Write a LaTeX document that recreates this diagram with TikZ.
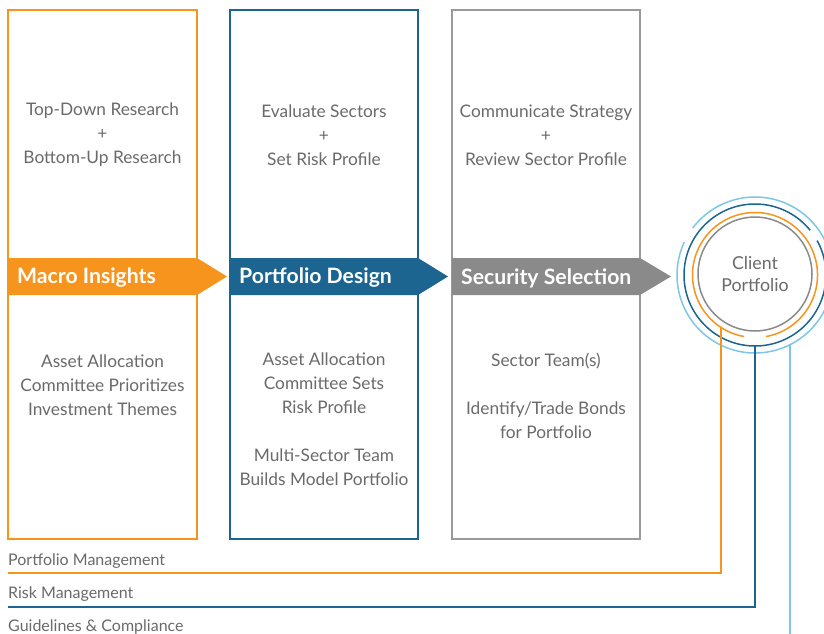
\documentclass[tikz,border=0pt]{standalone}
\usepackage{fontspec}
\setmainfont{Lato}
\definecolor{morange}{HTML}{F7941D}
\definecolor{mblue}{HTML}{1B6590}
\definecolor{mgray}{HTML}{8A8A8A}
\definecolor{lblue}{HTML}{7DC6E6}
\definecolor{txt}{HTML}{6A6A6A}
\definecolor{boxgray}{HTML}{9A9A9A}
\tikzset{
  colbox/.style={rectangle, line width=1.4pt, minimum height=529pt, inner sep=0pt},
  bodytext/.style={align=center, text=txt, font=\fontsize{17.3}{24}\selectfont},
  bannertext/.style={anchor=west, text=white, font=\bfseries\fontsize{21.2}{22}\selectfont, inner sep=0pt},
  sidelabel/.style={anchor=west, text=txt, font=\fontsize{16}{18}\selectfont, inner sep=0pt},
  ring/.style={line width=1.5pt},
  track/.style={line width=1.4pt}
}
\begin{document}
\begin{tikzpicture}[x=1pt,y=-1pt]
\clip (0,0) rectangle (824,634);
\useasboundingbox (0,0) rectangle (824,634);

% column boxes
\node[colbox, draw=morange, minimum width=189pt] (box1) at (102.5,274.5) {};
\node[colbox, draw=mblue, minimum width=188pt] (box2) at (324,274.5) {};
\node[colbox, draw=boxgray, minimum width=188pt] (box3) at (546,274.5) {};

% banners
\fill[morange] (8,258) -- (197,258) -- (227,276.5) -- (197,295) -- (8,295) -- cycle;
\fill[mblue] (230,258) -- (418,258) -- (448,276.5) -- (418,295) -- (230,295) -- cycle;
\fill[mgray] (452,258) -- (640,258) -- (671,276.5) -- (640,295) -- (452,295) -- cycle;
\node[bannertext] (b1) at (17,278) {Macro Insights};
\node[bannertext] (b2) at (239,278) {Portfolio Design};
\node[bannertext] (b3) at (461,278) {Security Selection};

% texts
\node[bodytext] (t1) at (102.5,135) {Top-Down Research\\+\\Bottom-Up Research};
\node[bodytext] (t2) at (324,135) {Evaluate Sectors\\+\\Set Risk Profile};
\node[bodytext] (t3) at (546,135) {Communicate Strategy\\+\\Review Sector Profile};
\node[bodytext] (u1) at (102.5,385.5) {Asset Allocation\\Committee Prioritizes\\Investment Themes};
\node[bodytext] (u2) at (324,419.5) {Asset Allocation\\Committee Sets\\Risk Profile\\[24pt]Multi-Sector Team\\Builds Model Portfolio};
\node[bodytext] (u3) at (546,395.5) {Sector Team(s)\\[24pt]Identify/Trade Bonds\\for Portfolio};

% client portfolio
\node[circle, draw=mgray, ring, minimum size=114pt, inner sep=0pt, align=center, text=txt,
      font=\fontsize{17.8}{22}\selectfont] (client) at (755,274) {Client\\Portfolio};
\coordinate (cc) at (755,275);
\draw[morange, ring] ([shift={(280:62.5pt)}]cc) arc[start angle=280, end angle=620, radius=62.5pt];
\draw[mblue, ring] ([shift={(39:71pt)}]cc) arc[start angle=39, end angle=389, radius=71pt];
\draw[lblue, ring] ([shift={(155:78pt)}]cc) arc[start angle=155, end angle=503, radius=78pt];

% tracks
\coordinate (oTop) at (721,327.4);
\coordinate (dTop) at (755,346);
\coordinate (lTop) at (790,344.7);
\coordinate (oEnd) at (8,573);
\coordinate (dEnd) at (8,607);
\coordinate (lEnd) at (790,634);
\draw[morange, track] (oTop) |- (oEnd);
\draw[mblue, track] (dTop) |- (dEnd);
\draw[lblue, track] (lTop) -- (lEnd);

\node[sidelabel] (pm) at (8,561.5) {Portfolio Management};
\node[sidelabel] (rm) at (8,594.5) {Risk Management};
\node[sidelabel] (gc) at (8,626.5) {Guidelines \& Compliance};
\end{tikzpicture}
\end{document}
